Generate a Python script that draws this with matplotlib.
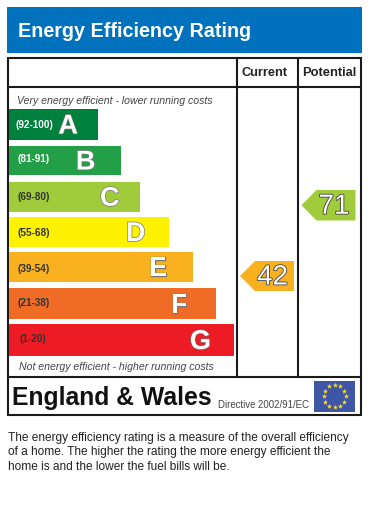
import matplotlib
matplotlib.use("Agg")
import matplotlib.pyplot as plt
import matplotlib.patheffects as pe
import numpy as np
from matplotlib.patches import Polygon, Rectangle

# values
band_letters = ["A", "B", "C", "D", "E", "F", "G"]
band_ranges = ["(92-100)", "(81-91)", "(69-80)", "(55-68)", "(39-54)", "(21-38)", "(1-20)"]
band_lengths = [89, 111.5, 130.5, 159.5, 184, 206.5, 225]
band_colors = ["#00803d", "#23a047", "#a0cb3a", "#fff200", "#f9b11f", "#ef6b26", "#ed1c24"]
current_rating = 42
potential_rating = 71
current_color = "#f9b11f"
potential_color = "#a0cb3a"

plt.rcParams["font.family"] = ["Liberation Sans", "DejaVu Sans"]

fig = plt.figure(figsize=(3.75, 5.2), dpi=100)
ax = fig.add_axes([0, 0, 1, 1])
ax.set_xlim(0, 375)
ax.set_ylim(520, 0)
ax.axis("off")

# header
ax.add_patch(Rectangle((7, 6.5), 355, 46, fc="#0071bc", ec="none"))
ax.text(17.5, 31.5, "Energy Efficiency Rating", color="white", fontsize=14.2,
        fontweight="bold", va="center")

# frame
FRAME = "#1a1a1a"
ax.add_patch(Rectangle((8, 57.5), 352.5, 357, fc="none", ec=FRAME, lw=1.5))
ax.plot([236.5, 236.5], [57.5, 377], color=FRAME, lw=1.5)
ax.plot([297.5, 297.5], [57.5, 377], color=FRAME, lw=1.5)
ax.plot([8, 360.5], [87, 87], color=FRAME, lw=1.5)
ax.plot([8, 360.5], [377, 377], color=FRAME, lw=1.5)

ax.text(265, 73, "Current", fontsize=9.2, fontweight="bold", color="#222",
        ha="center", va="center")
ax.text(329.5, 73.5, "Potential", fontsize=9.3, fontweight="bold", color="#222",
        ha="center", va="center")

ax.text(17, 100.5, "Very energy efficient - lower running costs", fontsize=7.6,
        style="italic", color="#444", va="center")
ax.text(19, 367.5, "Not energy efficient - higher running costs", fontsize=7.6,
        style="italic", color="#444", va="center")

# bands
band_top = [109, 146, 182, 217, 252, 288, 324]
band_h = [31, 29, 29.5, 30, 30, 31, 32]
range_x = [16, 17, 18, 17, 17, 18, 19]
range_y = [124.5, 159.5, 197.5, 232.5, 268.5, 303.5, 339.5]
letter_gap = [20, 25, 20, 23, 26, 28, 23]
letter_outline = [pe.withStroke(linewidth=1.0, foreground="#777")]
for i, letter in enumerate(band_letters):
    ax.barh(band_top[i] + band_h[i] / 2, band_lengths[i], height=band_h[i], left=9,
            color=band_colors[i], edgecolor="none")
    mid = band_top[i] + band_h[i] / 2
    ax.text(range_x[i], range_y[i], band_ranges[i], fontsize=7.2, fontweight="bold",
            color="white" if i < 2 else "#333", va="center")
    ax.text(9 + band_lengths[i] - letter_gap[i], mid + 2, letter, fontsize=19.5,
            fontweight="bold", color="white", ha="right", va="center",
            path_effects=letter_outline)


def rating_arrow(tip, shoulder, right, top, bottom, value, color):
    mid = (top + bottom) / 2
    ax.add_patch(Polygon([(tip, mid), (shoulder, top), (right, top), (right, bottom),
                          (shoulder, bottom)], closed=True, fc=color, ec="none"))
    ax.text((shoulder + right) / 2 - 2, mid + 1.5, str(value), fontsize=20, color="white",
            ha="center", va="center",
            path_effects=[pe.withStroke(linewidth=1.2, foreground="#444")])


rating_arrow(240, 255, 294, 261, 291, current_rating, current_color)
rating_arrow(301.5, 316.5, 355.5, 190, 220.5, potential_rating, potential_color)

# footer of the frame
ax.text(11.5, 397.5, "England & Wales", fontsize=17.8, fontweight="bold", color="#111",
        va="center")
ax.text(218, 405.5, "Directive 2002/91/EC", fontsize=6.9, color="#444", va="center")

# EU flag
ax.add_patch(Rectangle((314, 380.5), 41, 31.5, fc="#3f55a5", ec="none"))
angles = np.deg2rad(np.arange(0, 360, 30))
ax.scatter(334.5 + 11 * np.cos(angles), 396 + 11 * np.sin(angles), marker="*", s=16,
           color="#ffe11a", linewidths=0)

# paragraph
para = ["The energy efficiency rating is a measure of the overall efficiency",
        "of a home. The higher the rating the more energy efficient the",
        "home is and the lower the fuel bills will be."]
for line, y in zip(para, [438, 452.5, 467.5]):
    ax.text(7.5, y, line, fontsize=8.56, color="#222", va="center")

fig.savefig("out.png", dpi=100)
